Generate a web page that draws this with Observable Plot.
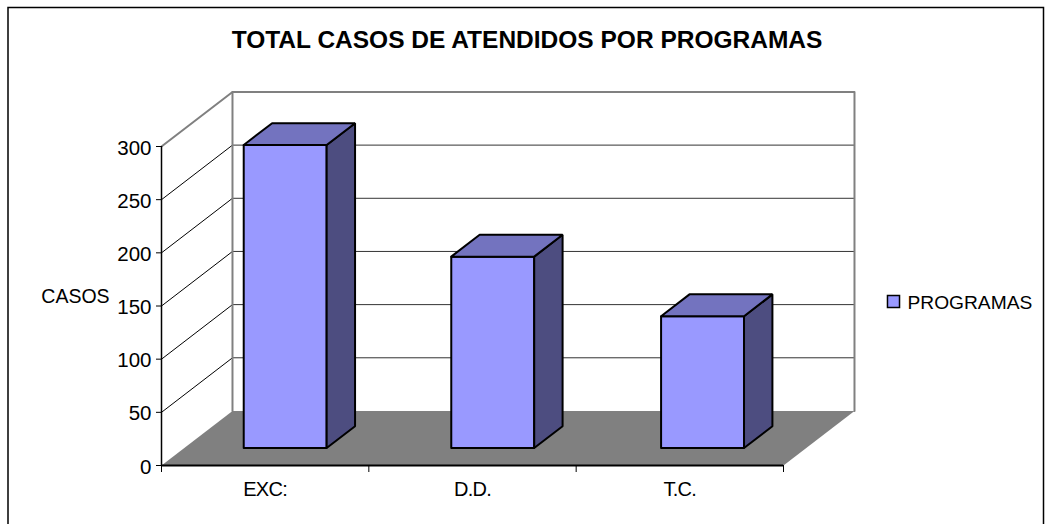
<!DOCTYPE html>
<html><head><meta charset="utf-8">
<style>html,body{margin:0;padding:0;background:#fff;overflow:hidden}svg{display:block}.tight text{letter-spacing:-0.7px}</style>
<script src="https://cdn.jsdelivr.net/npm/d3@7"></script>
<script src="https://cdn.jsdelivr.net/npm/@observablehq/plot@0.6"></script>
</head><body><div id="chart"></div>
<script>
const titleText = "TOTAL CASOS DE ATENDIDOS POR PROGRAMAS";
const yLabel = "CASOS";
const legendLabel = "PROGRAMAS";
const categories = ["EXC:", "D.D.", "T.C."];
const values = [285, 180, 124];
const yTicks = [0, 50, 100, 150, 200, 250, 300];

// Oblique projection: depth d (0 front, 1 back) shifts right and up, in scale units
const DX = 0.3424, DY = 51.3;
const P = (u, v, d) => ({x: u + d * DX, y: v + d * DY});
const closed = (pts, bar) => [...pts, pts[0]].map(p => ({...p, bar}));

const floor = closed([P(0,0,0), P(3,0,0), P(3,0,1), P(0,0,1)], 0);
const wallEdges = [P(0,0,1), P(0,300,1), P(3,300,1), P(3,0,1)];
const topEdge = [P(0,300,0), P(0,300,1)];
const backGrid = yTicks.slice(1, -1).flatMap(v => [P(0,v,1), P(3,v,1)].map(p => ({...p, v})));
const sideGrid = yTicks.slice(1, -1).flatMap(v => [P(0,v,0), P(0,v,1)].map(p => ({...p, v})));

// Bars sit at 30%-70% of their category's width and of the floor's depth
const a = .3, b = .7, da = .32, db = .72;
const nudge = [-.013, -.012, 0];
const fronts = values.flatMap((v,i) => { const u = i + nudge[i]; return closed([P(u+a,0,da), P(u+b,0,da), P(u+b,v,da), P(u+a,v,da)], i); });
const sides  = values.flatMap((v,i) => { const u = i + nudge[i]; return closed([P(u+b,0,da), P(u+b,0,db), P(u+b,v,db), P(u+b,v,da)], i); });
const tops   = values.flatMap((v,i) => { const u = i + nudge[i]; return closed([P(u+a,v,da), P(u+b,v,da), P(u+b,v,db), P(u+a,v,db)], i); });

const mL = 161, mT = 146;
const at = (px, py) => ({frameAnchor: "top-left", lineAnchor: "middle", dx: px - mL, dy: py - mT});
const font = "'Liberation Sans', Arial, sans-serif";
const faceStyle = {x: "x", y: "y", z: "bar", stroke: "#000", strokeWidth: 2, strokeLinejoin: "miter"};

const plot = Plot.plot({
  width: 1045, height: 524,
  marginLeft: mL, marginRight: 262, marginTop: mT, marginBottom: 59,
  style: {fontFamily: font, background: "#fff", overflow: "visible"},
  x: {domain: [0, 3], axis: null},
  y: {domain: [0, 300], axis: null},
  marks: [
    Plot.frame({stroke: "#000", strokeWidth: 1.5, insetLeft: -153.5, insetTop: -139, insetRight: -260, insetBottom: -70}),
    Plot.line(floor, {x: "x", y: "y", fill: "#808080", stroke: "none"}),
    Plot.line(sideGrid, {x: "x", y: "y", z: "v", stroke: "#000", strokeWidth: 1}),
    Plot.line(backGrid, {x: "x", y: "y", z: "v", stroke: "#333", strokeWidth: 1}),
    Plot.line(wallEdges, {x: "x", y: "y", stroke: "#808080", strokeWidth: 2}),
    Plot.line(topEdge, {x: "x", y: "y", stroke: "#808080", strokeWidth: 2}),
    Plot.ruleX([0], {y1: 0, y2: 300, stroke: "#000", strokeWidth: 1.5}),
    Plot.ruleY([0], {x1: 0, x2: 3, stroke: "#000", strokeWidth: 2}),
    Plot.axisY({ticks: yTicks, tickSize: 5, tickFormat: () => "", label: null, stroke: "#000"}),
    Plot.axisY({ticks: yTicks, tickSize: 0, tickPadding: 10, dy: 1.5, fontSize: 20.5, label: null, fill: "#000", tickFormat: d => d}),
    Plot.axisX({ticks: [0, 1, 2, 3], tickSize: 7, tickFormat: () => "", label: null, stroke: "#000"}),
    Plot.axisX({ticks: [0.5, 1.5, 2.5], tickSize: 0, tickPadding: 16, fontSize: 20, className: "tight", label: null, fill: "#000",
      tickFormat: d => categories[Math.floor(d)]}),
    Plot.line(fronts, {...faceStyle, fill: "#9999FF"}),
    Plot.line(sides, {...faceStyle, fill: "#4D4D80"}),
    Plot.line(tops, {...faceStyle, fill: "#7373BF"}),
    Plot.text([titleText], {...at(526.5, 40), text: d => d, fontSize: 24.5, fontWeight: "bold", fill: "#000", textAnchor: "middle"}),
    Plot.text([yLabel], {...at(75, 296), text: d => d, fontSize: 19.5, fill: "#000", textAnchor: "middle"}),
    Plot.dot([legendLabel], {...at(893, 301), symbol: "square", r: 6.8, fill: "#9999FF", stroke: "#000", strokeWidth: 1.5}),
    Plot.text([legendLabel], {...at(907, 302), text: d => d, fontSize: 19.2, fill: "#000", textAnchor: "start"})
  ]
});
document.getElementById("chart").append(plot);
</script></body></html>
